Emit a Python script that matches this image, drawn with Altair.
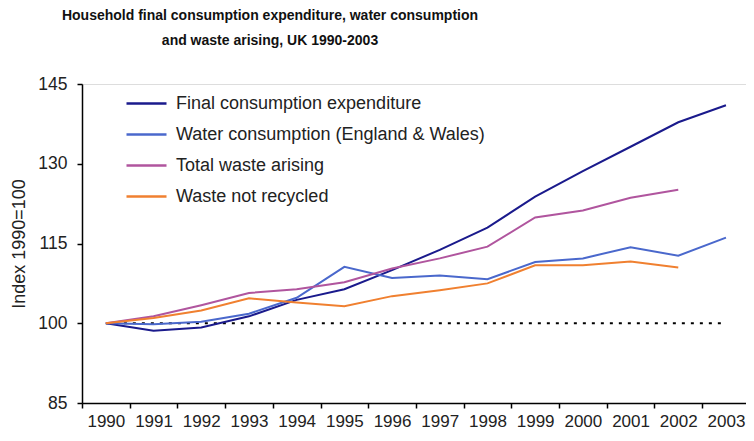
import altair as alt
import pandas as pd

years = list(range(1990, 2004))
series_names = [
    "Final consumption expenditure",
    "Water consumption (England & Wales)",
    "Total waste arising",
    "Waste not recycled",
]
final_consumption = [100, 98.6, 99.2, 101.3, 104.4, 106.4, 110.0, 113.8, 118.0, 123.8, 128.6, 133.2, 137.8, 141.0]
water = [100, 99.8, 100.3, 101.8, 104.8, 110.6, 108.5, 109.0, 108.3, 111.5, 112.2, 114.3, 112.7, 116.1]
total_waste = [100, 101.3, 103.4, 105.7, 106.4, 107.7, 110.3, 112.2, 114.4, 119.9, 121.2, 123.6, 125.1, None]
waste_not_recycled = [100, 101.0, 102.4, 104.7, 103.9, 103.2, 105.1, 106.2, 107.5, 110.9, 110.9, 111.6, 110.5, None]
colors = ["#1a1a8c", "#4a68cc", "#b0559e", "#f08030"]
y_ticks = [85, 100, 115, 130, 145]
baseline_value = 100

rows = []
for name, vals in zip(series_names, [final_consumption, water, total_waste, waste_not_recycled]):
    for yr, v in zip(years, vals):
        if v is not None:
            rows.append({"year": yr, "series": name, "value": v})
df = pd.DataFrame(rows)
base_df = pd.DataFrame({"year": [years[0], years[-1]], "value": [baseline_value, baseline_value]})

FONT = "Liberation Sans, Arial, sans-serif"

x_scale = alt.Scale(domain=[1989.5, 2003.42], nice=False, zero=False)
y_scale = alt.Scale(domain=[85, 145], nice=False, zero=False)

x_axis = alt.Axis(
    values=[y - 0.5 for y in years],
    labelExpr="format(datum.value + 0.5, 'd')",
    labelOffset=23.85,
    labelFlush=False,
    labelOverlap=False,
    labelBound=False,
    title=None,
    grid=False,
    tickSize=5,
    tickColor="#000",
    domainColor="#000",
    domainWidth=1.5,
    tickWidth=1.5,
    labelFontSize=17,
    labelColor="#222",
    labelFont=FONT,
    labelPadding=5,
)
y_axis = alt.Axis(
    values=y_ticks,
    title="Index 1990=100",
    titleFontSize=18,
    titleFontWeight="normal",
    titleFont=FONT,
    titleColor="#222",
    titlePadding=9,
    grid=False,
    tickSize=5,
    tickColor="#000",
    domainColor="#000",
    domainWidth=1.5,
    tickWidth=1.5,
    labelFontSize=17.5,
    labelColor="#222",
    labelFont=FONT,
    labelPadding=10,
)

baseline = alt.Chart(base_df).mark_line(color="#000", strokeDash=[3, 6], strokeWidth=2).encode(
    x=alt.X("year:Q", scale=x_scale, axis=x_axis),
    y=alt.Y("value:Q", scale=y_scale, axis=y_axis),
)

lines = alt.Chart(df).mark_line(strokeWidth=2).encode(
    x=alt.X("year:Q", scale=x_scale, axis=x_axis),
    y=alt.Y("value:Q", scale=y_scale, axis=y_axis),
    color=alt.Color(
        "series:N",
        scale=alt.Scale(domain=series_names, range=colors),
        sort=series_names,
        legend=alt.Legend(
            title=None,
            orient="none",
            legendX=43,
            legendY=-2,
            symbolType="stroke",
            symbolSize=1600,
            symbolStrokeWidth=2.5,
            labelFontSize=18,
            labelFont=FONT,
            labelColor="#222",
            labelOffset=8,
            rowPadding=0,
            padding=0,
            labelLimit=400,
        ),
    ),
)

chart = (
    alt.layer(baseline, lines)
    .properties(
        width=664,
        height=319,
        autosize=alt.AutoSizeParams(type="none"),
        padding={"left": 74, "top": 76, "right": 0, "bottom": 30},
        title=alt.TitleParams(
            text=[
                "Household final consumption expenditure, water consumption",
                "and waste arising, UK 1990-2003",
            ],
            font=FONT,
            fontSize=14,
            fontWeight="bold",
            lineHeight=25,
            color="#111",
            anchor="middle",
            frame="group",
            dx=-144,
            offset=27,
        ),
    )
    .configure_view(stroke=None)
    .configure(background="white")
)

chart.save("out.html", embed_options={"renderer": "svg", "actions": False})
